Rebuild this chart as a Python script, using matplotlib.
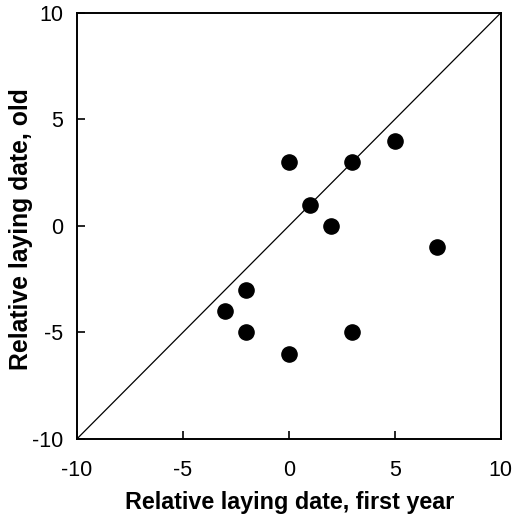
import matplotlib
matplotlib.use("Agg")
import matplotlib.pyplot as plt

plt.rcParams['font.family'] = ['Liberation Sans', 'DejaVu Sans']
plt.rcParams['axes.unicode_minus'] = False

# laying dates (days relative to mean)
first_year = [0, 3, 5, 1, 2, 7, -2, -3, -2, 3, 0]
old = [3, 3, 4, 1, 0, -1, -3, -4, -5, -5, -6]
ticks = [-10, -5, 0, 5, 10]

fig = plt.figure(figsize=(5.27, 5.20), dpi=100)
ax = fig.add_axes([0.146, 0.156, 0.804, 0.819])

# line of equality
ax.plot([-10, 10], [-10, 10], color='black', linewidth=0.9)
ax.scatter(first_year, old, s=120, color='black', zorder=3)

ax.set_xlim(-10, 10)
ax.set_ylim(-10, 10)
ax.set_xticks(ticks)
ax.set_yticks(ticks)
ax.tick_params(direction='in', length=6, width=1.2, labelsize=15.5)
ax.tick_params(axis='x', pad=15)
ax.tick_params(axis='y', pad=10)
for s in ax.spines.values():
    s.set_linewidth(1.4)

ax.set_xlabel('Relative laying date, first year', fontsize=16.8, fontweight='bold')
ax.set_ylabel('Relative laying date, old', fontsize=17.8, fontweight='bold')
ax.xaxis.set_label_coords(0.501, -0.122)
ax.yaxis.set_label_coords(-0.104, 0.493)

fig.savefig('out.png', dpi=100)
